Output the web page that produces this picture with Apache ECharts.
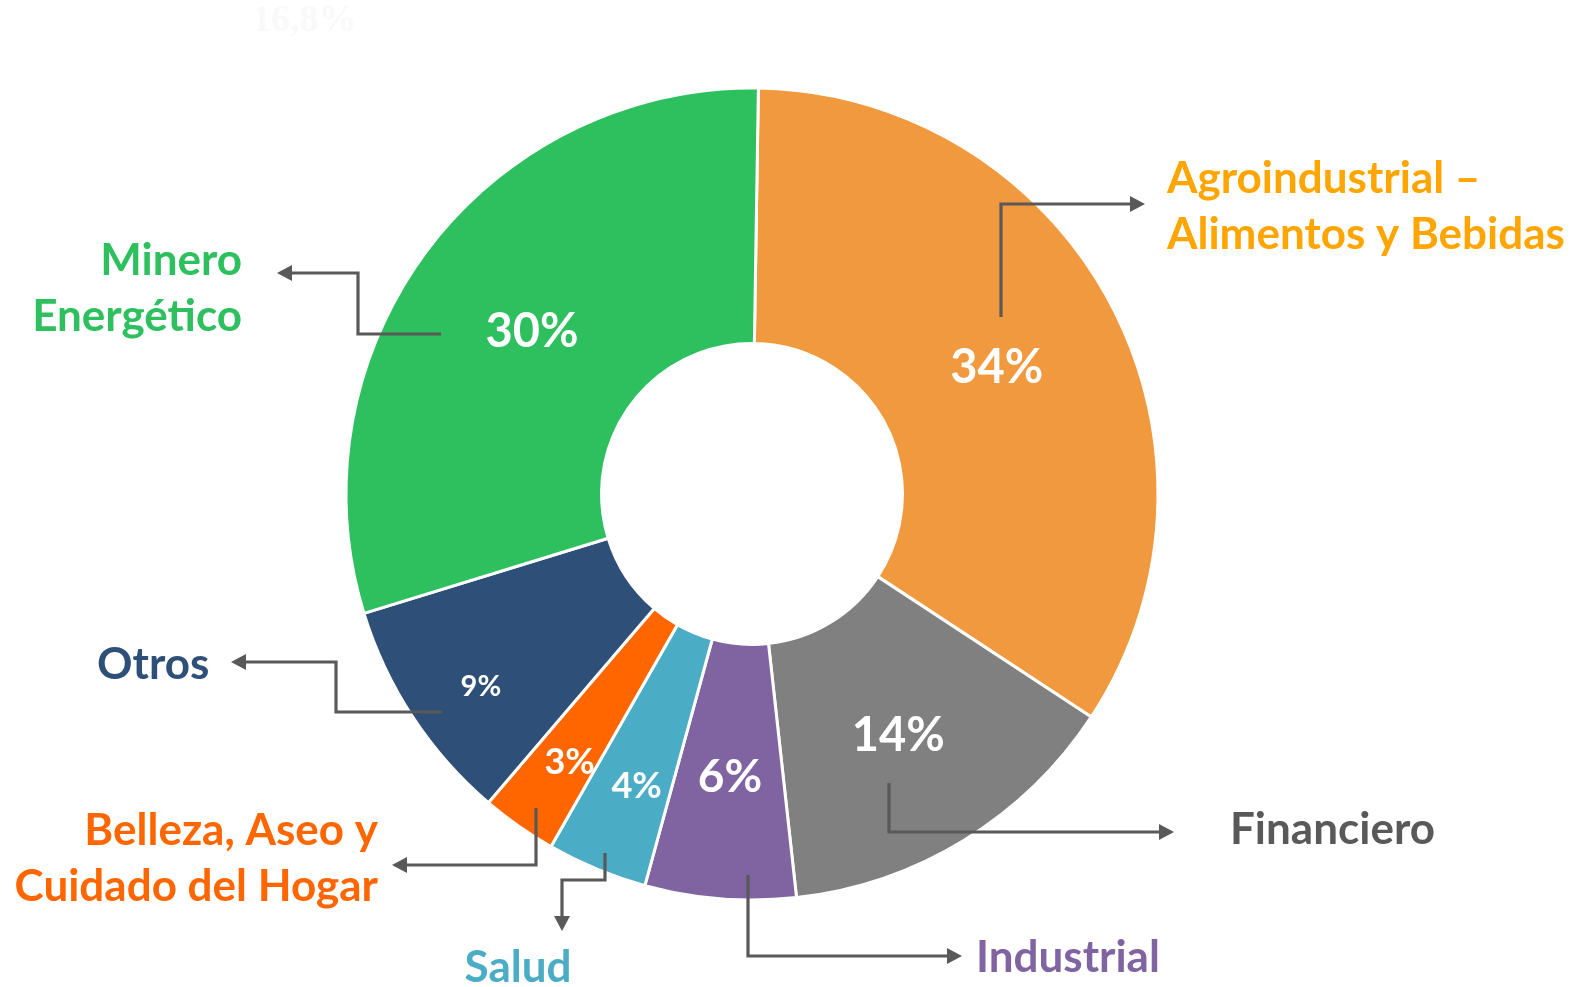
<!DOCTYPE html>
<html>
<head>
<meta charset="utf-8">
<title>Distribución por sector</title>
<script src="https://cdn.jsdelivr.net/npm/echarts@6/dist/echarts.min.js"></script>
<style>
  html, body { margin: 0; padding: 0; background: #ffffff; }
  #chart { width: 1578px; height: 987px; }
</style>
</head>
<body>
<div id="chart"></div>
<script>
// Sectors, clockwise from the top of the ring
const categories = [
  'Agroindustrial –\nAlimentos y Bebidas',
  'Financiero',
  'Industrial',
  'Salud',
  'Belleza, Aseo y\nCuidado del Hogar',
  'Otros',
  'Minero\nEnergético'
];
// Share of each sector (%)
const shares = [34, 14, 6, 4, 3, 9, 30];

// Colours
const sliceColors = ['#F0993E', '#808080', '#8064A2', '#4BACC6', '#FF6600', '#2E4F77', '#2EBF5E'];
const nameColors  = ['#FFA500', '#595959', '#8064A2', '#4BACC6', '#FF6600', '#2E4F77', '#2EBF5E'];
const pctFontSize = [47, 47, 46, 36, 36, 29, 47];

// Ring geometry
const CX = 752, CY = 494;
const START = 89.1;                      // degrees, ECharts convention
const pctRadius = [277, 280, 281, 312, 322, 331, 275];
const pctAngleShift = [0, 0, 0, -0.8, -0.6, -1.7, 0];   // degrees, nudges along the ring
const PCT_DY = 3;

// Outside name labels and their elbow connectors
const nameAnchors = [
  { x: 1167, y: 207, align: 'left' },
  { x: 1230, y: 830, align: 'left' },
  { x: 976,  y: 958, align: 'left' },
  { x: 518,  y: 968, align: 'center' },
  { x: 378,  y: 859, align: 'right' },
  { x: 97,   y: 665, align: 'left' },
  { x: 242,  y: 289, align: 'right' }
];
const connectors = [
  [[1001, 317], [1001, 204], [1145, 204]],
  [[889, 783], [889, 832], [1174, 832]],
  [[748, 875], [748, 956], [962, 956]],
  [[605, 853], [605, 880], [562, 880], [562, 931]],
  [[536, 808], [536, 865], [392, 865]],
  [[442, 712], [336, 712], [336, 662], [231, 662]],
  [[441, 334], [358, 334], [358, 273], [277, 273]]
];

const total = shares.reduce((a, b) => a + b, 0);
function midAngleDeg(i) {
  let before = 0;
  for (let k = 0; k < i; k++) before += shares[k];
  return (90 - START) + (before + shares[i] / 2) / total * 360;
}

function connectorGraphics(pts) {
  const LINE = '#595959';
  const n = pts.length;
  const tip = pts[n - 1], prev = pts[n - 2];
  const dx = tip[0] - prev[0], dy = tip[1] - prev[1];
  const len = Math.sqrt(dx * dx + dy * dy);
  const ux = dx / len, uy = dy / len;
  const headLen = 15, headHalf = 8;
  const bx = tip[0] - ux * headLen, by = tip[1] - uy * headLen;
  const linePts = pts.slice(0, n - 1).concat([[bx + ux * 2, by + uy * 2]]);
  return [
    {
      type: 'polyline',
      z: 100,
      shape: { points: linePts },
      style: { stroke: LINE, lineWidth: 3.2, fill: null, lineJoin: 'miter' },
      silent: true
    },
    {
      type: 'polygon',
      z: 100,
      shape: { points: [tip, [bx - uy * headHalf, by + ux * headHalf], [bx + uy * headHalf, by - ux * headHalf]] },
      style: { fill: LINE },
      silent: true
    }
  ];
}

const graphics = [];
connectors.forEach(c => graphics.push(...connectorGraphics(c)));
categories.forEach((name, i) => {
  const a = nameAnchors[i];
  graphics.push({
    type: 'text',
    z: 100,
    x: a.x, y: a.y,
    silent: true,
    style: {
      text: name,
      fill: nameColors[i],
      font: 'bold 44px Lato',
      lineHeight: 56,
      align: a.align,
      verticalAlign: 'middle'
    }
  });
});
// faint figure left over at the top of the slide
graphics.push({
  type: 'text',
  z: 100,
  x: 252, y: 21,
  silent: true,
  style: {
    text: '16,8%',
    fill: '#F9F9F9',
    font: 'bold 38px "Liberation Serif"',
    align: 'left',
    verticalAlign: 'middle'
  }
});

const chart = echarts.init(document.getElementById('chart'), null, { renderer: 'canvas' });
chart.setOption({
  backgroundColor: '#ffffff',
  animation: false,
  graphic: graphics,
  series: [{
    type: 'pie',
    z: 2,
    center: [CX, CY],
    radius: [150.5, 406],
    startAngle: START,
    clockwise: true,
    avoidLabelOverlap: false,
    silent: true,
    itemStyle: { borderColor: '#ffffff', borderWidth: 3 },
    label: {
      show: true,
      position: 'inside',
      formatter: p => p.value + '%',
      color: '#ffffff',
      fontFamily: 'Lato',
      fontWeight: 'bold'
    },
    labelLine: { show: false },
    labelLayout: function (p) {
      const i = p.dataIndex;
      const a = (midAngleDeg(i) + pctAngleShift[i]) * Math.PI / 180;
      const r = pctRadius[i];
      return { x: CX + r * Math.sin(a), y: CY - r * Math.cos(a) + PCT_DY, align: 'center', verticalAlign: 'middle' };
    },
    data: categories.map((name, i) => ({
      name: name,
      value: shares[i],
      itemStyle: { color: sliceColors[i] },
      label: { fontSize: pctFontSize[i] }
    }))
  }]
});
</script>
</body>
</html>
